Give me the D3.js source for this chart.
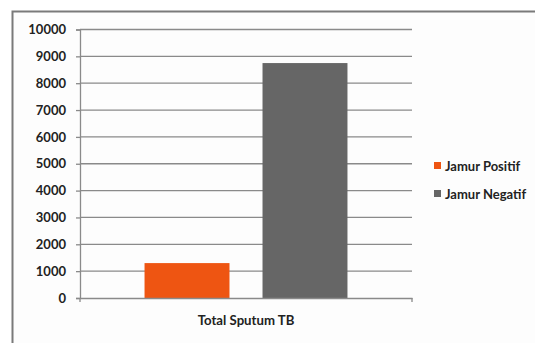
<!DOCTYPE html>
<html>
<head>
<meta charset="utf-8">
<script src="https://cdn.jsdelivr.net/npm/d3@7"></script>
<style>
  html, body { margin: 0; padding: 0; background: #ffffff; }
  svg { display: block; }
  text { font-family: Lato, "Open Sans", sans-serif; font-weight: 700; fill: #222; }
</style>
</head>
<body>
<script>
// Chart data
const categories = ["Total Sputum TB"];
const seriesNames = ["Jamur Positif", "Jamur Negatif"];
const seriesValues = [1300, 8750];
const seriesColors = ["#ee5512", "#666666"];
const yTicks = [0, 1000, 2000, 3000, 4000, 5000, 6000, 7000, 8000, 9000, 10000];

const W = 535, H = 343;
const svg = d3.select("body").append("svg").attr("width", W).attr("height", H);

// Outer chart frame
svg.append("rect").attr("x", 12.5).attr("y", 11.5).attr("width", W + 10).attr("height", H + 10)
  .attr("fill", "#fdfdfd").attr("stroke", "#7a7a7a").attr("stroke-width", 2);

const plot = { left: 80, right: 412, top: 29.5, bottom: 298 };

const y = d3.scaleLinear().domain([0, 10000]).range([plot.bottom, plot.top]);
const x0 = d3.scaleBand().domain(categories).range([plot.left, plot.right]);
const x1 = d3.scaleBand().domain(seriesNames).range([0, x0.bandwidth()]).paddingInner(0.28).paddingOuter(0.547);

// Horizontal gridlines
svg.append("g").selectAll("line").data(yTicks.filter(d => d > 0)).join("line")
  .attr("x1", plot.left).attr("x2", plot.right)
  .attr("y1", d => y(d)).attr("y2", d => y(d))
  .attr("stroke", "#8a8a8a").attr("stroke-width", 1.3);

// Y axis
const yAxis = svg.append("g").attr("transform", `translate(${plot.left},0)`)
  .call(d3.axisLeft(y).tickValues(yTicks).tickSize(4).tickPadding(10).tickFormat(d3.format("d")));
yAxis.select(".domain").attr("stroke", "#8a8a8a").attr("stroke-width", 1.3);
yAxis.selectAll(".tick line").attr("stroke", "#8a8a8a").attr("stroke-width", 1.3);
yAxis.selectAll("text").attr("font-size", 13).attr("fill", "#222");

// Bars
const groups = svg.append("g").selectAll("g").data(categories).join("g")
  .attr("transform", d => `translate(${x0(d)},0)`);
groups.selectAll("rect").data(seriesNames.map((n, i) => ({ name: n, value: seriesValues[i], color: seriesColors[i] })))
  .join("rect")
  .attr("x", d => x1(d.name))
  .attr("width", x1.bandwidth())
  .attr("y", d => y(d.value))
  .attr("height", d => y(0) - y(d.value))
  .attr("fill", d => d.color);

// X axis
const xAxis = svg.append("g").attr("transform", `translate(0,${plot.bottom})`)
  .call(d3.axisBottom(x0).tickSize(0).tickPadding(18));
xAxis.select(".domain").attr("stroke", "#8a8a8a").attr("stroke-width", 1.3);
xAxis.selectAll("text").attr("font-size", 13.2).attr("fill", "#222");
xAxis.append("g").selectAll("line").data([plot.left, plot.right]).join("line")
  .attr("x1", d => d).attr("x2", d => d).attr("y1", 0).attr("y2", 4)
  .attr("stroke", "#8a8a8a").attr("stroke-width", 1.3);

// Legend
const legend = svg.append("g").attr("transform", "translate(434,166)");
const items = legend.selectAll("g").data(seriesNames).join("g")
  .attr("transform", (d, i) => `translate(0,${i * 28})`);
items.append("rect").attr("x", 0).attr("y", -4).attr("width", 7).attr("height", 7)
  .attr("fill", (d, i) => seriesColors[i]);
items.append("text").attr("x", 11).attr("y", 0).attr("dy", "0.35em")
  .attr("font-size", 13).attr("fill", "#222").text(d => d);
</script>
</body>
</html>
